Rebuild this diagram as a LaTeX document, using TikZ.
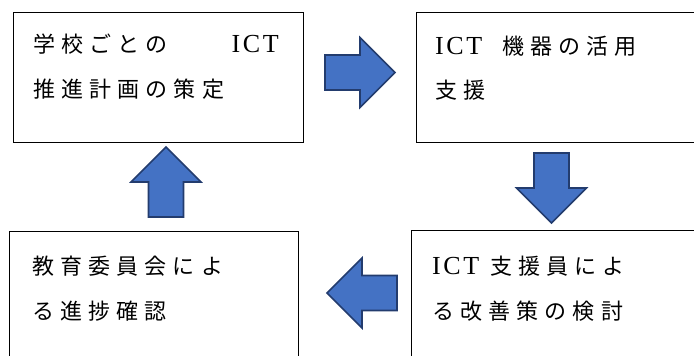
\documentclass[tikz,border=0pt]{standalone}
\usepackage{fontspec}
\setmainfont{Liberation Serif}
\newfontfamily\jp[LetterSpace=28]{Noto Sans CJK JP}
\newfontfamily\en[LetterSpace=10]{Liberation Serif}
\usetikzlibrary{calc}
\definecolor{arrowblue}{RGB}{68,114,196}
\definecolor{arrowedge}{RGB}{35,60,110}
\newcommand{\ict}{{\en\fontsize{26}{26}\selectfont ICT}}

\tikzset{
  stepbox/.style={draw=black, line width=0.9pt, inner sep=0pt, anchor=north west},
  textline/.style={anchor=base west, inner sep=0pt, font=\jp\fontsize{22}{22}\selectfont},
  blockarrow/.pic={
    \draw[fill=arrowblue, draw=arrowedge, line width=1.6pt, line join=miter]
      (-35,-17.5) -- (0,-17.5) -- (0,-35) -- (35,0) -- (0,35) -- (0,17.5) -- (-35,17.5) -- cycle;
  }
}

\begin{document}
\begin{tikzpicture}[x=1pt, y=-1pt]
  \useasboundingbox (0,0) rectangle (694,356);
  \clip (0,0) rectangle (694,356);

  % the four steps
  \node[stepbox, minimum width=290pt, minimum height=130pt] (plan) at (13,12) {};
  \node[stepbox, minimum width=290pt, minimum height=130pt] (support) at (416,12) {};
  \node[stepbox, minimum width=289pt, minimum height=140pt] (review) at (411,230) {};
  \node[stepbox, minimum width=289pt, minimum height=140pt] (check) at (9,231) {};

  \node[textline] (plan1) at ($(plan.north west)+(20,40)$) {学校ごとの\hspace{64pt}\ict};
  \node[textline] (plan2) at ($(plan.north west)+(20,85)$) {推進計画の策定};
  \node[textline] (support1) at ($(support.north west)+(19,42)$) {\ict\hspace{20pt}機器の活用};
  \node[textline] (support2) at ($(support.north west)+(19,86)$) {支援};
  \node[textline] (review1) at ($(review.north west)+(21,44)$) {\ict\hspace{11pt}支援員によ};
  \node[textline] (review2) at ($(review.north west)+(21,89)$) {る改善策の検討};
  \node[textline] (check1) at ($(check.north west)+(23,43)$) {教育委員会によ};
  \node[textline] (check2) at ($(check.north west)+(23,88)$) {る進捗確認};

  % block arrows between the steps
  \pic at (360,72.5) {blockarrow};
  \pic[rotate=-90] at (551.5,188) {blockarrow};
  \pic[rotate=180] at (362,293) {blockarrow};
  \pic[rotate=90] at (166,182) {blockarrow};
\end{tikzpicture}
\end{document}
